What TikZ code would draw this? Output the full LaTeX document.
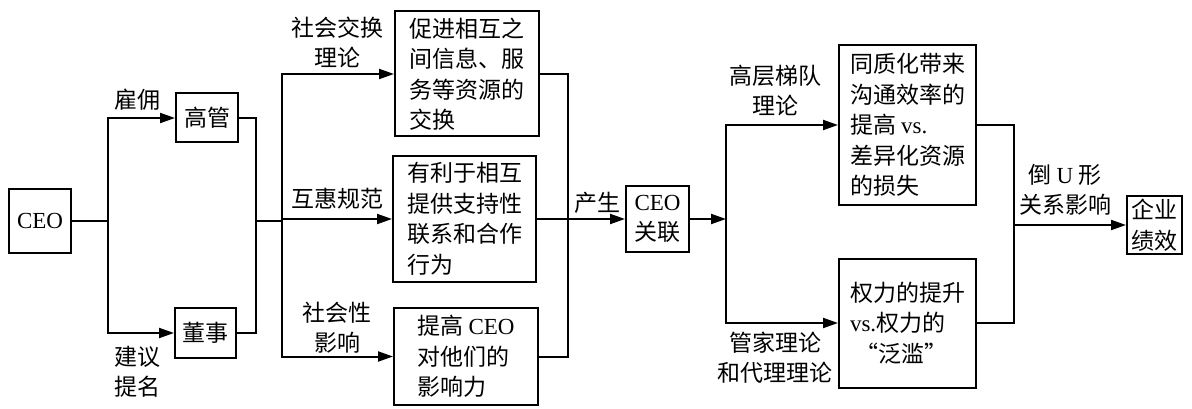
\documentclass[tikz,border=0pt]{standalone}
\usepackage{fontspec}
\setmainfont{Liberation Serif}
\newfontfamily\cjk{Noto Sans CJK SC}
\usetikzlibrary{arrows.meta}
\newcommand\lat[1]{{\rmfamily #1}}
\begin{document}
\begin{tikzpicture}[x=1pt,y=-1pt,
 box/.style={draw, line width=2pt, inner sep=2pt, align=left, font=\cjk\fontsize{23}{30.5}\selectfont},
 cbox/.style={box, align=center},
 lbl/.style={align=center, inner sep=0pt, font=\cjk\fontsize{23}{30}\selectfont},
 conn/.style={line width=2pt},
 arr/.style={conn, -{Triangle[length=15pt,width=10pt]}}]
\useasboundingbox (0,0) rectangle (1192,409);

% boxes
\node[cbox, minimum width=62pt, minimum height=64pt] (ceo) at (40,221) {\lat{CEO}};
\node[cbox, minimum width=62pt, minimum height=49pt] (gg) at (207,118) {高管};
\node[cbox, minimum width=61pt, minimum height=50pt] (ds) at (205.5,333) {董事};
\node[box, minimum width=144pt, minimum height=125pt] (b1) at (467,74) {促进相互之\\间信息、服\\务等资源的\\交换};
\node[box, minimum width=143pt, minimum height=126pt] (b2) at (464.5,219) {有利于相互\\提供支持性\\联系和合作\\行为};
\node[box, minimum width=144pt, minimum height=97pt] (b3) at (466,356.5) {提高 \lat{CEO}\\对他们的\\影响力};
\node[cbox, minimum width=63pt, minimum height=65pt] (gl) at (657.5,219) {\lat{CEO}\\关联};
\node[box, minimum width=137pt, minimum height=159pt] (r1) at (907.5,125) {同质化带来\\沟通效率的\\提高 \lat{vs.}\\差异化资源\\的损失};
\node[box, minimum width=137pt, minimum height=129pt] (r2) at (907.5,323) {权力的提升\\\lat{vs.}权力的\\\ “泛滥”};
\node[cbox, minimum width=55pt, minimum height=58pt] (qy) at (1154.5,225) {企业\\绩效};

% junctions
\coordinate (j1) at (108,221);
\coordinate (j2) at (256,221);
\coordinate (j3) at (282,221);
\coordinate (j4) at (568,219);
\coordinate (j5) at (726,219);
\coordinate (j6) at (1014,225);

% connectors
\draw[conn] (ceo.east) -- (j1);
\draw[arr] (j1) |- (gg.west);
\draw[arr] (j1) |- (ds.west);
\draw[conn] (gg.east) -| (j2);
\draw[conn] (ds.east) -| (j2);
\draw[conn] (j2) -- (j3);
\draw[arr] (j3) |- (b1.west);
\draw[arr] (j3) |- (b2.west);
\draw[arr] (j3) |- (b3.west);
\draw[conn] (b1.east) -| (j4);
\draw[conn] (b3.east) -| (j4);
\draw[arr] (b2.east) -- (gl.west);
\draw[arr] (gl.east) -- (j5);
\draw[arr] (j5) |- (r1.west);
\draw[arr] (j5) |- (r2.west);
\draw[conn] (r1.east) -| (j6);
\draw[conn] (r2.east) -| (j6);
\draw[arr] (j6) -- (qy.west);

% labels
\node[lbl] (l1) at (137,100) {雇佣};
\node[lbl] (l2) at (137,372) {建议\\提名};
\node[lbl] (l3) at (337,42) {社会交换\\理论};
\node[lbl] (l4) at (337,199) {互惠规范};
\node[lbl] (l5) at (337,328) {社会性\\影响};
\node[lbl] (l6) at (597,203) {产生};
\node[lbl] (l7) at (775,90) {高层梯队\\理论};
\node[lbl] (l8) at (775,358) {管家理论\\和代理理论};
\node[lbl] (l9) at (1065,190) {倒 \lat{U} 形\\关系影响};
\end{tikzpicture}
\end{document}
